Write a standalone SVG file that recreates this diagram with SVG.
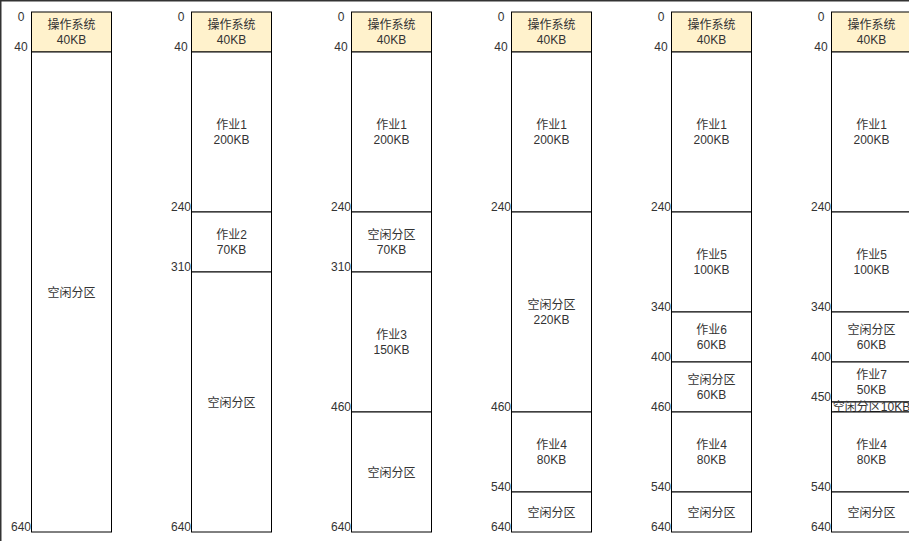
<svg xmlns="http://www.w3.org/2000/svg" width="909" height="541" viewBox="0 0 909 541">
<style>
.b{fill:#ffffff;stroke:#000000;stroke-width:1}
.os{fill:#fff2cc;stroke:#000000;stroke-width:1}
text{font-family:"Liberation Sans","Noto Sans CJK SC",sans-serif;font-size:12px;fill:#333333;text-anchor:middle}
</style>
<rect x="0" y="0" width="909" height="541" fill="#ffffff"/>
<path d="M0.75 541 V0.75 H909" fill="none" stroke="#333333" stroke-width="1.5"/>
<g id="connectors"/>
<!-- Column 1 -->
<g id="c1-os"><rect class="os" x="31.5" y="12" width="80" height="40"/><text x="71.5" y="28.5">操作系统</text><text x="71.5" y="43.5">40KB</text></g>
<g id="c1-free"><rect class="b" x="31.5" y="52" width="80" height="480"/><text x="71.5" y="296.5">空闲分区</text></g>
<g id="c1-labels"><text x="21" y="20.5">0</text><text x="21" y="50.5">40</text><text x="21" y="530.5">640</text></g>
<!-- Column 2 -->
<g id="c2-os"><rect class="os" x="191.5" y="12" width="80" height="40"/><text x="231.5" y="28.5">操作系统</text><text x="231.5" y="43.5">40KB</text></g>
<g id="c2-job1"><rect class="b" x="191.5" y="52" width="80" height="160"/><text x="231.5" y="128.5">作业1</text><text x="231.5" y="143.5">200KB</text></g>
<g id="c2-job2"><rect class="b" x="191.5" y="212" width="80" height="60"/><text x="231.5" y="238.5">作业2</text><text x="231.5" y="253.5">70KB</text></g>
<g id="c2-free"><rect class="b" x="191.5" y="272" width="80" height="260"/><text x="231.5" y="406.5">空闲分区</text></g>
<g id="c2-labels"><text x="181" y="20.5">0</text><text x="181" y="50.5">40</text><text x="181" y="210.5">240</text><text x="181" y="270.5">310</text><text x="181" y="530.5">640</text></g>
<!-- Column 3 -->
<g id="c3-os"><rect class="os" x="351.5" y="12" width="80" height="40"/><text x="391.5" y="28.5">操作系统</text><text x="391.5" y="43.5">40KB</text></g>
<g id="c3-job1"><rect class="b" x="351.5" y="52" width="80" height="160"/><text x="391.5" y="128.5">作业1</text><text x="391.5" y="143.5">200KB</text></g>
<g id="c3-free1"><rect class="b" x="351.5" y="212" width="80" height="60"/><text x="391.5" y="238.5">空闲分区</text><text x="391.5" y="253.5">70KB</text></g>
<g id="c3-job3"><rect class="b" x="351.5" y="272" width="80" height="140"/><text x="391.5" y="338.5">作业3</text><text x="391.5" y="353.5">150KB</text></g>
<g id="c3-free2"><rect class="b" x="351.5" y="412" width="80" height="120"/><text x="391.5" y="476.5">空闲分区</text></g>
<g id="c3-labels"><text x="341" y="20.5">0</text><text x="341" y="50.5">40</text><text x="341" y="210.5">240</text><text x="341" y="270.5">310</text><text x="341" y="410.5">460</text><text x="341" y="530.5">640</text></g>
<!-- Column 4 -->
<g id="c4-os"><rect class="os" x="511.5" y="12" width="80" height="40"/><text x="551.5" y="28.5">操作系统</text><text x="551.5" y="43.5">40KB</text></g>
<g id="c4-job1"><rect class="b" x="511.5" y="52" width="80" height="160"/><text x="551.5" y="128.5">作业1</text><text x="551.5" y="143.5">200KB</text></g>
<g id="c4-free1"><rect class="b" x="511.5" y="212" width="80" height="200"/><text x="551.5" y="308.5">空闲分区</text><text x="551.5" y="323.5">220KB</text></g>
<g id="c4-job4"><rect class="b" x="511.5" y="412" width="80" height="80"/><text x="551.5" y="448.5">作业4</text><text x="551.5" y="463.5">80KB</text></g>
<g id="c4-free2"><rect class="b" x="511.5" y="492" width="80" height="40"/><text x="551.5" y="516.5">空闲分区</text></g>
<g id="c4-labels"><text x="501" y="20.5">0</text><text x="501" y="50.5">40</text><text x="501" y="210.5">240</text><text x="501" y="410.5">460</text><text x="501" y="490.5">540</text><text x="501" y="530.5">640</text></g>
<!-- Column 5 -->
<g id="c5-os"><rect class="os" x="671.5" y="12" width="80" height="40"/><text x="711.5" y="28.5">操作系统</text><text x="711.5" y="43.5">40KB</text></g>
<g id="c5-job1"><rect class="b" x="671.5" y="52" width="80" height="160"/><text x="711.5" y="128.5">作业1</text><text x="711.5" y="143.5">200KB</text></g>
<g id="c5-job5"><rect class="b" x="671.5" y="212" width="80" height="100"/><text x="711.5" y="258.5">作业5</text><text x="711.5" y="273.5">100KB</text></g>
<g id="c5-job6"><rect class="b" x="671.5" y="312" width="80" height="50"/><text x="711.5" y="333.5">作业6</text><text x="711.5" y="348.5">60KB</text></g>
<g id="c5-free1"><rect class="b" x="671.5" y="362" width="80" height="50"/><text x="711.5" y="383.5">空闲分区</text><text x="711.5" y="398.5">60KB</text></g>
<g id="c5-job4"><rect class="b" x="671.5" y="412" width="80" height="80"/><text x="711.5" y="448.5">作业4</text><text x="711.5" y="463.5">80KB</text></g>
<g id="c5-free2"><rect class="b" x="671.5" y="492" width="80" height="40"/><text x="711.5" y="516.5">空闲分区</text></g>
<g id="c5-labels"><text x="661" y="20.5">0</text><text x="661" y="50.5">40</text><text x="661" y="210.5">240</text><text x="661" y="310.5">340</text><text x="661" y="360.5">400</text><text x="661" y="410.5">460</text><text x="661" y="490.5">540</text><text x="661" y="530.5">640</text></g>
<!-- Column 6 -->
<g id="c6-os"><rect class="os" x="831.5" y="12" width="80" height="40"/><text x="871.5" y="28.5">操作系统</text><text x="871.5" y="43.5">40KB</text></g>
<g id="c6-job1"><rect class="b" x="831.5" y="52" width="80" height="160"/><text x="871.5" y="128.5">作业1</text><text x="871.5" y="143.5">200KB</text></g>
<g id="c6-job5"><rect class="b" x="831.5" y="212" width="80" height="100"/><text x="871.5" y="258.5">作业5</text><text x="871.5" y="273.5">100KB</text></g>
<g id="c6-free1"><rect class="b" x="831.5" y="312" width="80" height="50"/><text x="871.5" y="333.5">空闲分区</text><text x="871.5" y="348.5">60KB</text></g>
<g id="c6-job7"><rect class="b" x="831.5" y="362" width="80" height="40"/><text x="871.5" y="378.5">作业7</text><text x="871.5" y="393.5">50KB</text></g>
<g id="c6-free2"><rect class="b" x="831.5" y="402" width="80" height="10"/><text x="871.5" y="411">空闲分区10KB</text></g>
<g id="c6-job4"><rect class="b" x="831.5" y="412" width="80" height="80"/><text x="871.5" y="448.5">作业4</text><text x="871.5" y="463.5">80KB</text></g>
<g id="c6-free3"><rect class="b" x="831.5" y="492" width="80" height="40"/><text x="871.5" y="516.5">空闲分区</text></g>
<g id="c6-labels"><text x="821" y="20.5">0</text><text x="821" y="50.5">40</text><text x="821" y="210.5">240</text><text x="821" y="310.5">340</text><text x="821" y="360.5">400</text><text x="821" y="400.5">450</text><text x="821" y="490.5">540</text><text x="821" y="530.5">640</text></g>
</svg>
